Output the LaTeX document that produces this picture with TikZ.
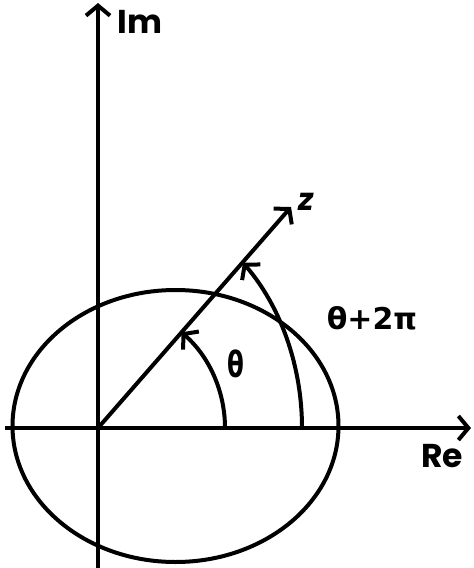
\documentclass[tikz,border=0pt]{standalone}
\usepackage{fontspec}
\setmainfont{Poppins}
\newfontfamily\grk{DejaVu Sans}
\usetikzlibrary{arrows.meta}
\begin{document}
\begin{tikzpicture}[x=1pt,y=1pt,
  line width=4pt,
  barb/.style={-{Straight Barb[length=10pt,width=24pt]}},
  lbl/.style={inner sep=0pt,font=\bfseries}]
\useasboundingbox (0,0) rectangle (474,-568);
\coordinate (O) at (98,-428);
\coordinate (ytop) at (98,-3);
\coordinate (ybot) at (98,-570);
\coordinate (xl) at (5,-428);
\coordinate (xr) at (471,-428);
\coordinate (zt) at (291,-207);
\coordinate (ec) at (175.5,-426);
% ellipse
\draw (ec) ellipse[x radius=163, y radius=136];
% axes
\draw[barb] (ybot) -- (ytop);
\draw[barb] (xl) -- (xr);
% z ray
\draw[barb] (O) -- (zt);
% angle arcs
\draw[barb] ([shift={(127,0)}]O) arc[start angle=0, end angle=48.9, radius=127];
\draw[barb] ([shift={(204,0)}]O) arc[start angle=0, end angle=44.7, x radius=204, y radius=235];
% labels
\node[lbl,font=\fontsize{33}{34}\selectfont\bfseries] (im) at (140,-22) {Im};
\node[lbl,font=\fontsize{33}{34}\selectfont\bfseries] (re) at (442,-456) {Re};
\node[lbl,font=\fontsize{31}{32}\selectfont\bfseries\itshape] (z) at (306,-202) {z};
\node[lbl,font=\fontsize{36}{37}\selectfont\grk\bfseries] (th) at (236,-364) {\scalebox{0.68}[1]{θ}};
\node[lbl,font=\fontsize{30}{31}\selectfont\grk\bfseries] (th2) at (372,-318) {θ+2π};
\end{tikzpicture}
\end{document}
